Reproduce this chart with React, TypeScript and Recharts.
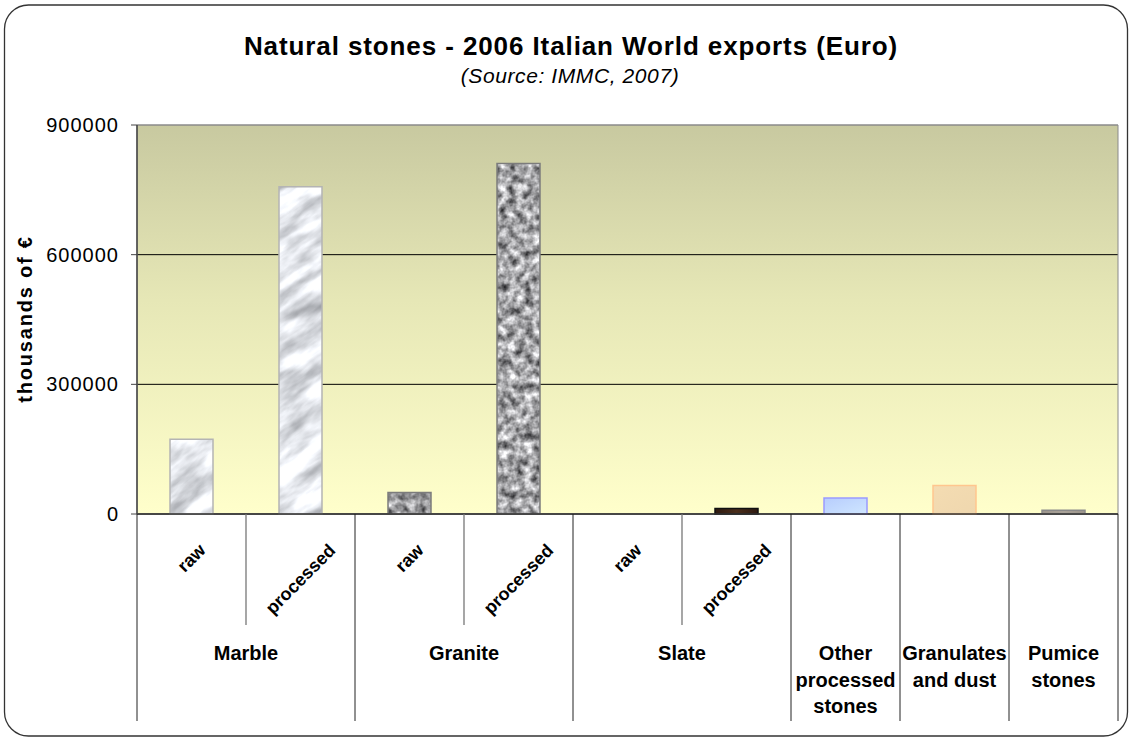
import React from 'react';
import { BarChart, Bar, XAxis, YAxis, CartesianGrid, Cell, ReferenceArea } from 'recharts';

// ---- data ----
const groupLabels: string[][] = [
  ['Marble'],
  ['Granite'],
  ['Slate'],
  ['Other', 'processed', 'stones'],
  ['Granulates', 'and dust'],
  ['Pumice', 'stones'],
];
const subLabels = ['raw', 'processed', 'raw', 'processed', 'raw', 'processed', '', '', ''];
const groupIndex = [0, 0, 1, 1, 2, 2, 3, 4, 5];
const exportValues = [173000, 757000, 50000, 811000, 0, 13000, 37000, 66000, 8600];
const yTicks = [0, 300000, 600000, 900000];

const TITLE = 'Natural stones - 2006 Italian World exports (Euro)';
const SUBTITLE = '(Source: IMMC, 2007)';
const Y_LABEL = 'thousands of €';

// ---- layout ----
const W = 1131;
const H = 740;
const PLOT_LEFT = 137;
const PLOT_RIGHT = 1118;
const PLOT_TOP = 125;
const AXIS_H = 226;
const BAND = (PLOT_RIGHT - PLOT_LEFT) / exportValues.length;
const FONT = '"Liberation Sans", Arial, Helvetica, sans-serif';

const barStyles = [
  { fill: 'url(#marbleRawP)', stroke: '#b4b4b4' },
  { fill: 'url(#marbleProcP)', stroke: '#b4b4b4' },
  { fill: 'url(#graniteRawP)', stroke: '#7c7c7c' },
  { fill: 'url(#graniteProcP)', stroke: '#7c7c7c' },
  { fill: '#5a4a3c', stroke: '#2a2a2a' },
  { fill: 'url(#slateG)', stroke: '#111111' },
  { fill: 'url(#blueG)', stroke: '#9a9aff' },
  { fill: 'url(#beigeG)', stroke: '#ffc68e' },
  { fill: 'url(#pumiceG)', stroke: '#8a8a8a' },
];

const data = exportValues.map((v, i) => ({
  key: `c${i}`,
  sub: subLabels[i],
  group: groupIndex[i],
  value: v,
}));

const XTick = (props: any) => {
  const { x, y } = props;
  const i: number = props.index ?? props.payload?.index ?? 0;
  const g = groupIndex[i];
  const firstOfGroup = i === 0 || groupIndex[i - 1] !== g;
  const groupSize = groupIndex.filter((v) => v === g).length;
  const left = x - BAND / 2;
  const sub = subLabels[i];
  const estLen = sub.length * 10;
  const cy = y + 27 + (estLen / 2 + 9) * 0.707;
  const gx = left + (groupSize * BAND) / 2;
  return (
    <g>
      <line
        x1={left}
        x2={left}
        y1={y}
        y2={y + (firstOfGroup ? 207 : 111)}
        stroke={firstOfGroup ? '#222' : '#777'}
        strokeWidth={firstOfGroup ? 1 : 1.3}
      />
      {i === exportValues.length - 1 && (
        <line x1={x + BAND / 2} x2={x + BAND / 2} y1={y} y2={y + 207} stroke="#222" strokeWidth={1} />
      )}
      {sub && (
        <text
          x={x}
          y={cy}
          textAnchor="middle"
          dominantBaseline="central"
          transform={`rotate(-45, ${x}, ${cy})`}
          fontFamily={FONT}
          fontWeight="bold"
          fontSize={18}
          fill="#000"
        >
          {sub}
        </text>
      )}
      {firstOfGroup && (
        <text x={gx} y={y + 146} textAnchor="middle" fontFamily={FONT} fontWeight="bold" fontSize={20} fill="#000">
          {groupLabels[g].map((line, k) => (
            <tspan key={k} x={gx} dy={k === 0 ? 0 : 26.5}>
              {line}
            </tspan>
          ))}
        </text>
      )}
    </g>
  );
};

const gridLine = (p: any) => (
  <line
    key={p.key ?? `${p.y1}`}
    x1={p.x1}
    x2={p.x2}
    y1={p.y1}
    y2={p.y2}
    stroke={p.y1 < PLOT_TOP + 2 ? '#8a8a8a' : '#000'}
    strokeWidth={1}
  />
);

const Overlay = () => (
  <svg width={W} height={H} style={{ position: 'absolute', left: 0, top: 0 }}>
    <defs>
      <linearGradient id="bgG" x1="0" y1="0" x2="0" y2="1">
        <stop offset="0" stopColor="#c8c9a0" />
        <stop offset="0.45" stopColor="#e6e7b6" />
        <stop offset="1" stopColor="#ffffcb" />
      </linearGradient>
      <filter id="marbleF" filterUnits="userSpaceOnUse" x="-400" y="-400" width="2000" height="1600" colorInterpolationFilters="sRGB">
        <feTurbulence type="fractalNoise" baseFrequency="0.02 0.06" numOctaves="4" seed="11" />
        <feColorMatrix type="matrix" values="0.75 0 0 0 0.52  0.75 0 0 0 0.53  0.75 0 0 0 0.55  0 0 0 0 1" />
      </filter>
      <filter id="graniteF" filterUnits="userSpaceOnUse" x="0" y="0" width="1131" height="740" colorInterpolationFilters="sRGB">
        <feTurbulence type="fractalNoise" baseFrequency="0.11" numOctaves="3" seed="5" />
        <feColorMatrix type="matrix" values="1.2 0 0 0 -0.02  1.2 0 0 0 -0.02  1.2 0 0 0 -0.01  0 0 0 0 1" />
      </filter>
      <filter id="graniteF2" filterUnits="userSpaceOnUse" x="0" y="0" width="1131" height="740" colorInterpolationFilters="sRGB">
        <feTurbulence type="fractalNoise" baseFrequency="0.12" numOctaves="3" seed="9" />
        <feColorMatrix type="matrix" values="1.25 0 0 0 0.02  1.25 0 0 0 0.02  1.25 0 0 0 0.03  0 0 0 0 1" />
      </filter>
      <pattern id="marbleRawP" patternUnits="userSpaceOnUse" x="0" y="0" width="1131" height="740" patternTransform="rotate(-40 190 470)">
        <rect x="0" y="0" width="1131" height="740" filter="url(#marbleF)" />
      </pattern>
      <pattern id="marbleProcP" patternUnits="userSpaceOnUse" x="0" y="0" width="1131" height="740" patternTransform="rotate(-35 300 350)">
        <rect x="0" y="0" width="1131" height="740" filter="url(#marbleF)" />
      </pattern>
      <pattern id="graniteRawP" patternUnits="userSpaceOnUse" x="0" y="0" width="1131" height="740">
        <rect x="0" y="0" width="1131" height="740" filter="url(#graniteF)" />
      </pattern>
      <pattern id="graniteProcP" patternUnits="userSpaceOnUse" x="0" y="0" width="1131" height="740">
        <rect x="0" y="0" width="1131" height="740" filter="url(#graniteF2)" />
      </pattern>
      <linearGradient id="slateG" x1="0" y1="0" x2="1" y2="0">
        <stop offset="0" stopColor="#2e1a10" />
        <stop offset="0.5" stopColor="#4a2e1c" />
        <stop offset="1" stopColor="#2e1a10" />
      </linearGradient>
      <linearGradient id="blueG" x1="0" y1="0" x2="1" y2="1">
        <stop offset="0" stopColor="#b7cdfd" />
        <stop offset="1" stopColor="#cfe6ff" />
      </linearGradient>
      <linearGradient id="beigeG" x1="0" y1="0" x2="1" y2="1">
        <stop offset="0" stopColor="#f4dcb2" />
        <stop offset="1" stopColor="#efd7ae" />
      </linearGradient>
      <linearGradient id="pumiceG" x1="0" y1="0" x2="1" y2="0">
        <stop offset="0" stopColor="#9c958c" />
        <stop offset="0.5" stopColor="#aaa39a" />
        <stop offset="1" stopColor="#9c958c" />
      </linearGradient>
    </defs>
    <rect x={4.5} y={5} width={1123} height={731} rx={24} ry={24} fill="#fff" stroke="#333" strokeWidth={1.3} />
    <text x={571} y={55} textAnchor="middle" fontFamily={FONT} fontWeight="bold" fontSize={26} letterSpacing={0.9} fill="#000">
      {TITLE}
    </text>
    <text x={570} y={83} textAnchor="middle" fontFamily={FONT} fontStyle="italic" fontSize={21} letterSpacing={0.6} fill="#000">
      {SUBTITLE}
    </text>
    <text
      x={32}
      y={319}
      textAnchor="middle"
      transform="rotate(-90, 32, 319)"
      fontFamily={FONT}
      fontWeight="bold"
      fontSize={20}
      letterSpacing={1.8}
      fill="#000"
    >
      {Y_LABEL}
    </text>
  </svg>
);

export default function App() {
  return (
    <div style={{ position: 'absolute', left: 0, top: 0, width: W, height: H }}>
      <Overlay />
      <div style={{ position: 'absolute', left: 0, top: 0 }}>
        <BarChart
          width={W}
          height={H}
          data={data}
          margin={{ top: PLOT_TOP, right: W - PLOT_RIGHT, bottom: 0, left: 0 }}
        >
          <CartesianGrid vertical={false} horizontal={gridLine} fill="url(#bgG)" fillOpacity={1} />
          <ReferenceArea y1={0} y2={900000} fill="none" stroke="#8a8a8a" strokeWidth={1} ifOverflow="visible" />
          <XAxis
            dataKey="key"
            type="category"
            height={AXIS_H}
            interval={0}
            tickSize={0}
            tickMargin={0}
            tickLine={false}
            axisLine={{ stroke: '#333', strokeWidth: 1.5 }}
            tick={<XTick />}
          />
          <YAxis
            type="number"
            domain={[0, 900000]}
            ticks={yTicks}
            width={PLOT_LEFT}
            tickSize={6}
            tickMargin={12}
            interval={0}
            axisLine={{ stroke: '#444', strokeWidth: 1.5 }}
            tickLine={{ stroke: '#444', strokeWidth: 1 }}
            tick={{ fontFamily: FONT, fontSize: 20, fill: '#000', letterSpacing: 1 }}
          />
          <Bar dataKey="value" barSize={43} isAnimationActive={false}>
            {data.map((d, i) => (
              <Cell key={d.key} fill={barStyles[i].fill} stroke={barStyles[i].stroke} strokeWidth={1.5} />
            ))}
          </Bar>
        </BarChart>
      </div>
    </div>
  );
}
